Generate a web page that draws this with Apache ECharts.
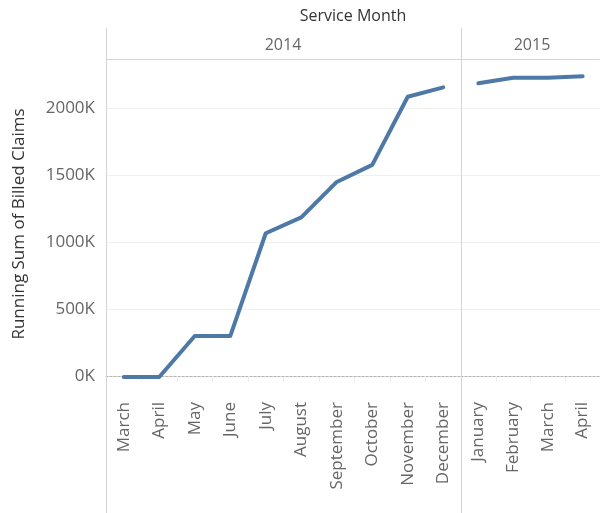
<!DOCTYPE html>
<html>
<head>
<meta charset="utf-8">
<script src="https://cdn.jsdelivr.net/npm/echarts@6/dist/echarts.min.js"></script>
<style>
  html, body { margin: 0; padding: 0; background: #fff; }
  #chart { width: 600px; height: 513px; }
</style>
</head>
<body>
<div id="chart"></div>
<script>
// values
const months2014 = ['March', 'April', 'May', 'June', 'July', 'August', 'September', 'October', 'November', 'December'];
const months2015 = ['January', 'February', 'March', 'April'];
const claims2014 = [-8000, -8000, 298000, 298000, 1065000, 1184000, 1448000, 1575000, 2084000, 2154000];
const claims2015 = [2184000, 2226000, 2225000, 2236000];
const yearLabels = ['2014', '2015'];
const yTicks = [0, 500000, 1000000, 1500000, 2000000];

const font = 'Open Sans';
const lineColor = '#4e79a7';
const borderColor = '#d4d4d4';
const yMin = -127000;
const yMax = 2358000;

const chart = echarts.init(document.getElementById('chart'));

function xAxisFor(idx, cats) {
  return {
    type: 'category',
    gridIndex: idx,
    data: cats,
    boundaryGap: true,
    axisLine: { show: true, lineStyle: { color: borderColor, width: 1 } },
    axisTick: { show: true, length: 6, lineStyle: { color: '#ececec' } },
    axisLabel: {
      rotate: 90, interval: 0, margin: 9,
      color: '#666', fontSize: 17, fontFamily: font
    },
    splitLine: { show: false }
  };
}

function yAxisFor(idx, showLabels) {
  return {
    type: 'value',
    gridIndex: idx,
    min: yMin,
    max: yMax,
    axisLine: { show: false },
    axisTick: { show: false, customValues: yTicks.filter(v => v !== 0) },
    axisLabel: {
      show: showLabels,
      customValues: yTicks,
      margin: 11,
      color: '#666', fontSize: 17, fontFamily: font,
      formatter: v => Math.round(v / 1000) + 'K'
    },
    splitLine: { show: true, lineStyle: { color: '#f0f0f0', width: 1 } }
  };
}

function seriesFor(idx, values) {
  return {
    type: 'line',
    xAxisIndex: idx,
    yAxisIndex: idx,
    data: values,
    symbol: 'none',
    lineStyle: { color: lineColor, width: 4, cap: 'round', join: 'round' },
    itemStyle: { color: lineColor },
    animation: false,
    markLine: {
      silent: true,
      symbol: 'none',
      label: { show: false },
      lineStyle: { color: '#b5b5b5', type: [2, 2], width: 1 },
      data: [{ yAxis: 0 }]
    },
    z: 5
  };
}

const option = {
  backgroundColor: '#fff',
  animation: false,
  grid: [
    { left: 106, top: 60, width: 355, height: 333 },
    { left: 461, top: 60, width: 142, height: 333 }
  ],
  xAxis: [xAxisFor(0, months2014), xAxisFor(1, months2015)],
  yAxis: [yAxisFor(0, true), yAxisFor(1, false)],
  series: [seriesFor(0, claims2014), seriesFor(1, claims2015)],
  graphic: [
    { type: 'line', shape: { x1: 106.5, y1: 28, x2: 106.5, y2: 513 }, style: { stroke: borderColor, lineWidth: 1 }, z: 10 },
    { type: 'line', shape: { x1: 461.5, y1: 28, x2: 461.5, y2: 513 }, style: { stroke: borderColor, lineWidth: 1 }, z: 10 },
    { type: 'line', shape: { x1: 106, y1: 59.5, x2: 600, y2: 59.5 }, style: { stroke: borderColor, lineWidth: 1 }, z: 10 },
    { type: 'text', style: { text: 'Service Month', x: 353, y: 16, align: 'center', verticalAlign: 'middle', fill: '#333', fontSize: 16, fontFamily: font } },
    { type: 'text', style: { text: yearLabels[0], x: 283, y: 45, align: 'center', verticalAlign: 'middle', fill: '#666', fontSize: 16, fontFamily: font } },
    { type: 'text', style: { text: yearLabels[1], x: 532, y: 45, align: 'center', verticalAlign: 'middle', fill: '#666', fontSize: 16, fontFamily: font } },
    { type: 'text', x: 19, y: 224, rotation: Math.PI / 2, style: { text: 'Running Sum of Billed Claims', x: 0, y: 0, align: 'center', verticalAlign: 'middle', fill: '#333', fontSize: 17, fontFamily: font } }
  ]
};

chart.setOption(option);
</script>
</body>
</html>
